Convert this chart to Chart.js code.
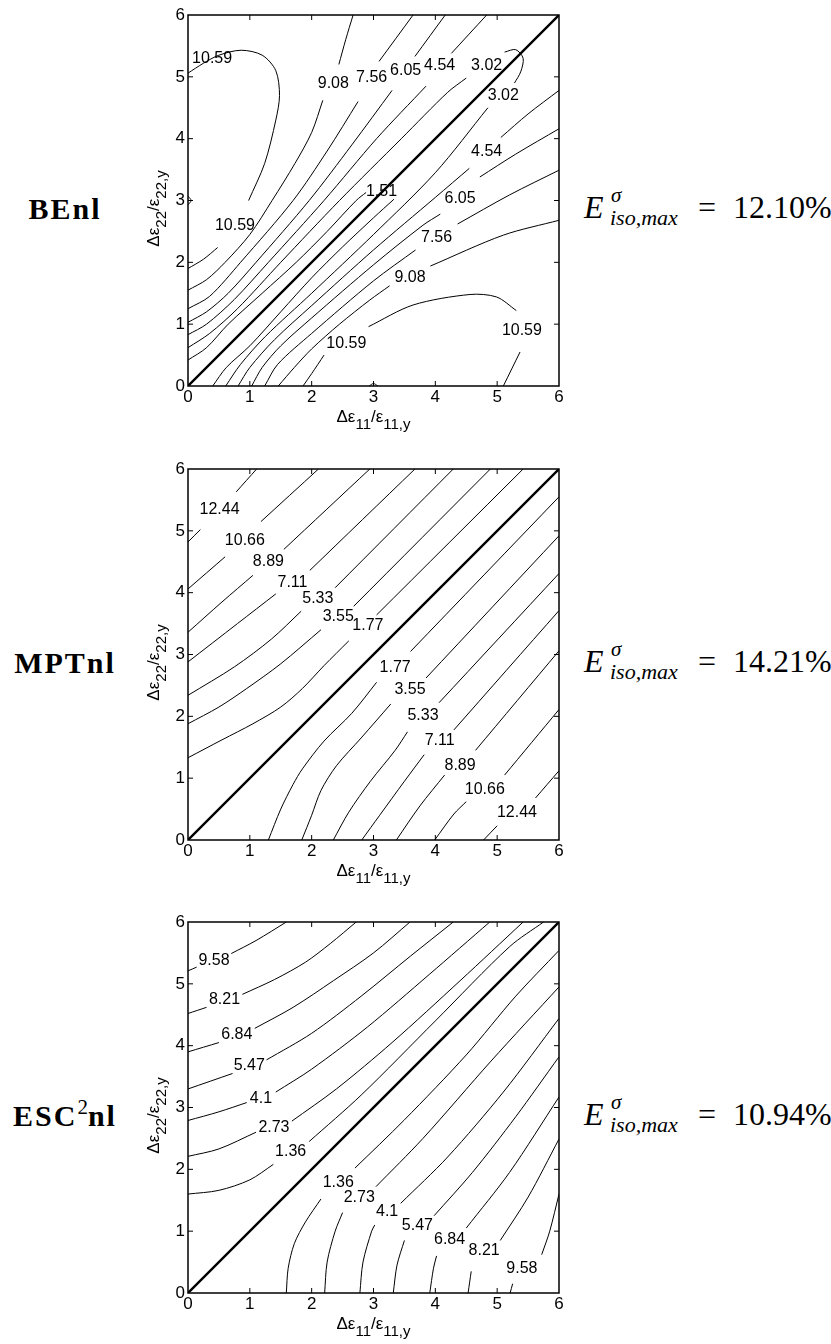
<!DOCTYPE html>
<html>
<head>
<meta charset="utf-8">
<script src="https://cdn.jsdelivr.net/npm/chart.js@4.4.1/dist/chart.umd.min.js"></script>
<style>
  html, body { margin: 0; padding: 0; background: #fff; }
  body { position: relative; width: 831px; height: 1344px; overflow: hidden; }
  .plot { position: absolute; left: 140px; width: 440px; height: 440px; }
  .name { position: absolute; left: 0; width: 130px; text-align: center; line-height: 1;
          font: bold 30px "Liberation Serif", serif; letter-spacing: 2px; white-space: nowrap; }
  .name sup { font-weight: normal; font-size: 21px; vertical-align: 0; position: relative; top: -12px; letter-spacing: 0; }
  .err { position: absolute; font-family: "Liberation Serif", serif; line-height: 1; white-space: nowrap; color: #000; }
</style>
</head>
<body>
<div class="plot" style="top:0px"><canvas id="be"></canvas></div>
<div class="plot" style="top:454px"><canvas id="mpt"></canvas></div>
<div class="plot" style="top:907px"><canvas id="esc"></canvas></div>

<script>
// ---- shared axis data ----
const axisTicks = [0, 1, 2, 3, 4, 5, 6];
const diagonal = [[0, 0], [6, 6]];

// ---- BEnl (levels 1.51 ... 10.59), null = break in the line for a label ----
const beLevels = ['1.51', '3.02', '4.54', '6.05', '7.56', '9.08', '10.59'];
const beLines = [
  // 1.51 (upper + lower, turns across the diagonal under its label)
  [[0,0.42],[0.3,0.62],[0.65,1.0],[1.2,1.5],[1.75,2.0],[2.25,2.5],[2.72,3.0],[2.88,3.13], null,
   [3.33,3.02],[3.0,2.72],[2.5,2.25],[2.0,1.75],[1.5,1.2],[1.0,0.65],[0.62,0.3],[0.40,0]],
  // 3.02 (upper, loop round the diagonal, lower)
  [[0,0.62],[0.35,0.85],[0.8,1.25],[1.5,2.0],[2.45,3.0],[3.45,4.0],[4.2,4.75],[4.5,4.98], null,
   [5.12,5.40],[5.3,5.44],[5.42,5.3],[5.38,5.08],[5.28,4.9], null,
   [4.85,4.5],[4.0,3.45],[3.0,2.45],[2.0,1.5],[1.25,0.8],[0.85,0.35],[0.61,0]],
  // 4.54 upper
  [[0,0.83],[0.3,1.0],[0.75,1.4],[1.3,2.0],[2.2,3.0],[3.05,4.0],[3.85,4.85], null, [4.26,5.38],[4.83,6.0]],
  // 4.54 lower
  [[0.81,0],[1.0,0.3],[1.4,0.75],[2.0,1.3],[3.0,2.2],[4.0,3.05],[4.55,3.52], null, [5.06,4.02],[5.5,4.4],[6,4.78]],
  // 6.05 upper
  [[0,1.03],[0.3,1.2],[0.65,1.5],[1.1,2.0],[1.96,3.0],[2.65,3.9],[3.3,4.78], null, [3.67,5.33],[4.16,6.0]],
  // 6.05 lower
  [[1.03,0],[1.2,0.3],[1.5,0.65],[2.0,1.1],[3.0,1.96],[3.8,2.6],[4.08,2.78], null, [4.72,3.38],[5.3,3.75],[6,4.16]],
  // 7.56 upper
  [[0,1.25],[0.35,1.45],[0.85,2.0],[1.70,3.0],[2.25,3.8],[2.75,4.6], null, [3.09,5.25],[3.64,6.0]],
  // 7.56 lower
  [[1.24,0],[1.45,0.35],[2.0,0.85],[3.0,1.70],[3.68,2.2], null, [4.36,2.62],[5.2,3.09],[6,3.49]],
  // 9.08 upper
  [[0,1.55],[0.3,1.72],[0.6,2.0],[1.0,2.45],[1.36,3.0],[1.73,3.6],[2.0,4.1],[2.18,4.62], null, [2.44,5.2],[2.55,5.6],[2.67,6.0]],
  // 9.08 lower
  [[1.46,0],[1.72,0.3],[2.0,0.6],[2.45,1.0],[2.94,1.39],[3.26,1.62], null, [3.92,1.94],[5.10,2.44],[6,2.68]],
  // 10.59 upper-left closed region
  [[0,1.9],[0.25,2.05],[0.48,2.24], null, [0.98,3.0],[1.24,3.6],[1.42,4.3],[1.48,4.7],[1.42,5.1],[1.2,5.35],
   [0.86,5.43],[0.5,5.35],[0.25,5.22],[0,5.06]],
  // 10.59 lower-right closed region
  [[1.86,0],[2.0,0.2],[2.2,0.5], null, [2.92,0.96],[3.64,1.31],[4.56,1.48],[4.99,1.44],[5.31,1.22], null, [5.37,0.55],[5.1,0]],
  // small blips at the edges
  [[0,2.93],[0.05,3.0],[0,3.07]],
  [[2.93,0],[3.0,0.04],[3.07,0]]
];
const beLabels = [
  [0.39,5.29,'10.59'],[0.76,2.60,'10.59'],[2.35,4.89,'9.08'],[2.97,4.99,'7.56'],[3.52,5.10,'6.05'],
  [4.07,5.18,'4.54'],[4.83,5.18,'3.02'],[5.10,4.69,'3.02'],[4.83,3.79,'4.54'],[4.40,3.03,'6.05'],
  [4.02,2.40,'7.56'],[3.59,1.76,'9.08'],[3.13,3.14,'1.51'],[2.56,0.69,'10.59'],[5.40,0.90,'10.59']
];

// ---- MPTnl (levels 1.77 ... 12.44) ----
const mptLevels = ['1.77', '3.55', '5.33', '7.11', '8.89', '10.66', '12.44'];
const mptLines = [
  [[0,4.82],[0.2,5.02], null, [0.78,5.63],[1.11,6.0]],
  [[0,4.06],[0.6,4.58], null, [1.18,5.15],[2.11,6.0]],
  [[0,3.36],[0.55,3.85],[1.05,4.28], null, [1.55,4.7],[2.94,6.0]],
  [[0,2.88],[0.8,3.5],[1.42,3.98], null, [1.97,4.36],[3.67,6.0]],
  [[0,2.34],[0.75,2.8],[1.35,3.25],[1.83,3.7], null, [2.38,4.08],[4.29,6.0]],
  [[0,1.88],[0.5,2.15],[0.95,2.45],[1.5,2.85],[2.15,3.4], null, [2.68,3.78],[4.89,6.0]],
  [[0,1.33],[0.55,1.62],[1.05,1.88],[1.5,2.15],[1.85,2.45],[2.2,2.82],[2.6,3.22], null, [3.05,3.64],[5.42,6.0]],
  [[1.30,0],[1.5,0.5],[1.7,0.9],[1.85,1.15],[2.2,1.6],[2.65,2.05],[3.05,2.55], null, [3.6,3.05],[6,5.55]],
  [[1.84,0],[2.0,0.4],[2.15,0.8],[2.4,1.2],[2.8,1.65],[3.28,2.2], null, [3.85,2.62],[6,4.92]],
  [[2.35,0],[2.6,0.45],[2.95,0.95],[3.35,1.45],[3.55,1.75], null, [4.06,2.22],[6,4.31]],
  [[2.81,0],[3.1,0.4],[3.5,0.95],[3.82,1.38], null, [4.3,1.78],[6,3.71]],
  [[3.37,0],[3.75,0.55],[4.15,1.05], null, [4.65,1.45],[6,3.06]],
  [[3.99,0],[4.3,0.42],[4.5,0.62], null, [5.12,1.05],[6,2.11]],
  [[4.78,0],[5.0,0.23], null, [5.62,0.68],[6,1.12]]
];
const mptLabels = [
  [0.51,5.34,'12.44'],[0.92,4.85,'10.66'],[1.30,4.50,'8.89'],[1.69,4.17,'7.11'],[2.10,3.90,'5.33'],
  [2.43,3.61,'3.55'],[2.91,3.47,'1.77'],[3.35,2.79,'1.77'],[3.59,2.44,'3.55'],[3.80,2.01,'5.33'],
  [4.07,1.61,'7.11'],[4.40,1.20,'8.89'],[4.80,0.82,'10.66'],[5.32,0.44,'12.44']
];

// ---- ESC2nl (levels 1.36 ... 9.58) ----
const escLevels = ['1.36', '2.73', '4.1', '5.47', '6.84', '8.21', '9.58'];
const escLines = [
  [[0,5.21],[0.14,5.27], null, [0.7,5.49],[1.1,5.7],[1.59,6.0]],
  [[0,4.52],[0.3,4.62], null, [0.88,4.83],[1.4,5.07],[1.9,5.35],[2.3,5.65],[2.72,6.0]],
  [[0,3.90],[0.5,4.05], null, [1.08,4.28],[1.7,4.62],[2.35,5.05],[3.0,5.5],[3.59,6.0]],
  [[0,3.30],[0.72,3.55], null, [1.27,3.77],[2.0,4.2],[2.8,4.8],[3.6,5.45],[4.29,6.0]],
  [[0,2.79],[0.5,2.93],[0.95,3.08], null, [1.42,3.25],[2.0,3.62],[2.9,4.3],[3.9,5.15],[4.88,6.0]],
  [[0,2.21],[0.5,2.33],[1.1,2.6], null, [1.68,2.78],[2.4,3.3],[3.3,4.05],[4.4,5.05],[5.42,6.0]],
  [[0,1.60],[0.5,1.66],[1.0,1.83],[1.38,2.08], null, [1.96,2.45],[2.8,3.2],[4.0,4.4],[5.2,5.6],[5.75,6.0]],
  [[1.59,0],[1.62,0.4],[1.72,0.8],[1.9,1.15],[2.15,1.52], null, [2.7,2.02],[3.5,2.8],[4.5,3.85],[5.3,4.8],[6,5.54]],
  [[2.21,0],[2.25,0.5],[2.38,1.0],[2.5,1.3], null, [3.04,1.72],[3.8,2.5],[4.9,3.75],[6,4.95]],
  [[2.78,0],[2.83,0.5],[2.97,1.0],[3.02,1.1], null, [3.44,1.45],[4.2,2.2],[5.1,3.25],[6,4.44]],
  [[3.32,0],[3.38,0.45],[3.5,0.85], null, [3.98,1.25],[4.6,1.95],[5.3,2.85],[6,3.82]],
  [[3.91,0],[3.97,0.4],[4.02,0.6], null, [4.5,1.05],[5.2,1.95],[6,3.17]],
  [[4.53,0],[4.58,0.35], null, [5.05,0.85],[5.5,1.55],[6,2.49]],
  [[5.21,0],[5.25,0.15], null, [5.72,0.62],[5.85,1.0],[6,1.60]]
];
const escLabels = [
  [0.42,5.37,'9.58'],[0.59,4.75,'8.21'],[0.79,4.18,'6.84'],[0.99,3.67,'5.47'],[1.18,3.15,'4.1'],
  [1.39,2.68,'2.73'],[1.66,2.28,'1.36'],[2.43,1.79,'1.36'],[2.77,1.54,'2.73'],[3.22,1.31,'4.1'],
  [3.71,1.09,'5.47'],[4.23,0.87,'6.84'],[4.79,0.69,'8.21'],[5.40,0.40,'9.58']
];

const plotNames = ['BEnl', 'MPTnl', 'ESC<sup>2</sup>nl'];
const maxErrors = ['12.10%', '14.21%', '10.94%'];
const plotOffsets = [0, 454, 907];

// ---- helpers ----
const toXY = p => ({ x: p[0], y: p[1] });

// split a line at its null markers so each piece is its own dataset
function pieces(line) {
  const out = [];
  let cur = [];
  line.forEach(p => {
    if (p === null) { if (cur.length) out.push(cur); cur = []; }
    else cur.push(toXY(p));
  });
  if (cur.length) out.push(cur);
  return out;
}

function richText(ctx, parts, cx, cy, rotate) {
  const MAIN = '17px "Liberation Sans", Arial, sans-serif';
  const SUB = '15px "Liberation Sans", Arial, sans-serif';
  ctx.save();
  ctx.translate(cx, cy);
  if (rotate) ctx.rotate(-Math.PI / 2);
  let w = 0;
  parts.forEach(([t, sub]) => { ctx.font = sub ? SUB : MAIN; w += ctx.measureText(t).width; });
  let xx = -w / 2;
  ctx.textAlign = 'left';
  ctx.textBaseline = 'alphabetic';
  ctx.fillStyle = '#000';
  parts.forEach(([t, sub]) => {
    ctx.font = sub ? SUB : MAIN;
    ctx.fillText(t, xx, sub ? 7 : 0);
    xx += ctx.measureText(t).width;
  });
  ctx.restore();
}

const xTitle = [['Δε', false], ['11', true], ['/ε', false], ['11,y', true]];
const yTitle = [['Δε', false], ['22', true], ['/ε', false], ['22,y', true]];

const framePlugin = {
  id: 'frame',
  afterDatasetsDraw(chart, args, opts) {
    const { ctx, chartArea: a, scales: { x, y } } = chart;
    ctx.save();
    // contour labels
    ctx.font = '16px "Liberation Sans", Arial, sans-serif';
    ctx.fillStyle = '#000';
    ctx.textAlign = 'center';
    ctx.textBaseline = 'middle';
    opts.labels.forEach(([vx, vy, t]) => ctx.fillText(t, x.getPixelForValue(vx), y.getPixelForValue(vy)));

    // box
    ctx.strokeStyle = '#000';
    ctx.lineWidth = 1.5;
    ctx.strokeRect(a.left, a.top, a.right - a.left, a.bottom - a.top);

    // inward ticks on all four sides
    ctx.lineWidth = 1;
    ctx.beginPath();
    axisTicks.slice(1, -1).forEach(v => {
      const px = x.getPixelForValue(v);
      const py = y.getPixelForValue(v);
      ctx.moveTo(px, a.bottom); ctx.lineTo(px, a.bottom - 5);
      ctx.moveTo(px, a.top); ctx.lineTo(px, a.top + 5);
      ctx.moveTo(a.left, py); ctx.lineTo(a.left + 5, py);
      ctx.moveTo(a.right, py); ctx.lineTo(a.right - 5, py);
    });
    ctx.stroke();

    // axis titles
    richText(ctx, xTitle, (a.left + a.right) / 2, a.bottom + 36, false);
    richText(ctx, yTitle, a.left - 29, (a.top + a.bottom) / 2 + 8, true);
    ctx.restore();
  }
};

function makePlot(id, lines, labels) {
  const datasets = [];
  lines.forEach(line => {
    pieces(line).forEach(seg => datasets.push({
      data: seg,
      showLine: true,
      borderColor: '#000',
      borderWidth: 1,
      pointRadius: 0,
      tension: 0.3
    }));
  });
  datasets.push({
    data: diagonal.map(toXY),
    showLine: true,
    borderColor: '#000',
    borderWidth: 2.4,
    pointRadius: 0,
    tension: 0
  });

  const tickFont = { family: '"Liberation Sans", Arial, sans-serif', size: 17 };
  return new Chart(document.getElementById(id), {
    type: 'scatter',
    data: { datasets },
    plugins: [framePlugin],
    options: {
      responsive: true,
      maintainAspectRatio: false,
      animation: false,
      devicePixelRatio: 1,
      layout: { padding: { top: 15, right: 21, bottom: 4, left: 0 } },
      scales: {
        x: {
          type: 'linear', min: 0, max: 6,
          afterBuildTicks: s => { s.ticks = axisTicks.map(v => ({ value: v })); },
          ticks: { color: '#000', font: tickFont, padding: 1, autoSkip: false, maxRotation: 0 },
          grid: { display: false, drawTicks: false },
          border: { display: false },
          afterFit: s => { s.height = 50; }
        },
        y: {
          type: 'linear', min: 0, max: 6,
          afterBuildTicks: s => { s.ticks = axisTicks.map(v => ({ value: v })); },
          ticks: { color: '#000', font: tickFont, padding: 3, autoSkip: false },
          grid: { display: false, drawTicks: false },
          border: { display: false },
          afterFit: s => { s.width = 48; }
        }
      },
      plugins: {
        legend: { display: false },
        tooltip: { enabled: false },
        frame: { labels }
      }
    }
  });
}

makePlot('be', beLines, beLabels);
makePlot('mpt', mptLines, mptLabels);
makePlot('esc', escLines, escLabels);

// ---- model names and max error text ----
plotOffsets.forEach((off, i) => {
  const name = document.createElement('div');
  name.className = 'name';
  name.style.top = (192 + off) + 'px';
  name.innerHTML = plotNames[i];
  document.body.appendChild(name);

  const parts = [
    ['<i>E</i>', 584, 191, 32],
    ['<i>σ</i>', 611, 185, 21],
    ['<i>iso,max</i>', 610, 207, 22],
    ['=', 698, 191, 32],
    [maxErrors[i], 733, 191, 32]
  ];
  parts.forEach(([html, left, top, size]) => {
    const s = document.createElement('span');
    s.className = 'err';
    s.innerHTML = html;
    s.style.left = left + 'px';
    s.style.top = (top + off) + 'px';
    s.style.fontSize = size + 'px';
    document.body.appendChild(s);
  });
});
</script>
</body>
</html>
